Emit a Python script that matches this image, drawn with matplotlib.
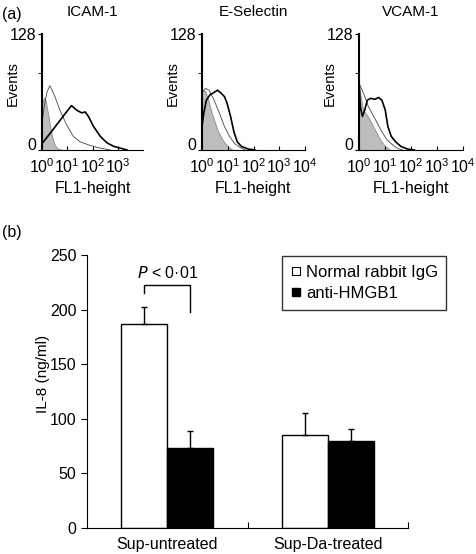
import matplotlib
matplotlib.use('Agg')
import numpy as np
import matplotlib.pyplot as plt
import matplotlib.transforms as mtransforms
from matplotlib.lines import Line2D

plt.rcParams['font.family'] = ['Liberation Sans', 'DejaVu Sans']
plt.rcParams['mathtext.default'] = 'regular'
plt.rcParams['font.size'] = 11.5

# ---- panel (a): flow cytometry histograms, x in decades (log10 of FL1-height) ----
icam_gray_x = [0, 0.05, 0.1, 0.15, 0.2, 0.25, 0.3, 0.35, 0.4, 0.45, 0.5, 0.55, 0.6, 0.7, 0.84]
icam_gray_y = [50, 56, 58, 54, 46, 38, 30, 22, 15, 10, 6, 4, 2, 1, 0]
icam_thin_x = [0, 0.1, 0.2, 0.31, 0.4, 0.51, 0.71, 0.97, 1.24, 1.51, 1.91, 2.31, 2.71]
icam_thin_y = [30, 50, 64, 71, 66, 59, 44, 28, 15, 9, 5, 2, 0]
icam_thick_x = [0, 0.31, 0.64, 0.97, 1.17, 1.37, 1.57, 1.71, 1.84, 2.04, 2.31, 2.57, 2.84, 3.11, 3.37]
icam_thick_y = [7, 18, 30, 42, 49, 44, 41, 42, 37, 26, 15, 8, 4, 2, 0]

esel_gray_x = [0, 0.13, 0.27, 0.4, 0.6, 0.8, 1.0, 1.2]
esel_gray_y = [66, 65, 52, 39, 22, 11, 4, 0]
esel_thin_x = [0, 0.13, 0.27, 0.47, 0.67, 0.87, 1.07, 1.27, 1.47, 1.67]
esel_thin_y = [63, 68, 66, 55, 41, 26, 15, 7, 3, 0]
esel_thick_x = [0, 0.07, 0.17, 0.31, 0.44, 0.6, 0.73, 0.87, 0.97, 1.11, 1.24, 1.37, 1.53, 1.8, 2.07]
esel_thick_y = [26, 41, 55, 61, 63, 66, 63, 59, 52, 37, 20, 9, 4, 1, 0]

vcam_gray_x = [0, 0.09, 0.16, 0.29, 0.42, 0.62, 0.82, 1.01, 1.21]
vcam_gray_y = [70, 55, 44, 39, 33, 22, 11, 4, 0]
vcam_thin_x = [0, 0.09, 0.22, 0.36, 0.49, 0.68, 0.88, 1.08, 1.28, 1.47, 1.67]
vcam_thin_y = [74, 68, 59, 48, 41, 31, 20, 11, 6, 2, 0]
vcam_thick_x = [0, 0.05, 0.13, 0.22, 0.32, 0.45, 0.62, 0.75, 0.88, 1.01, 1.11, 1.24, 1.41, 1.61, 1.87, 2.13]
vcam_thick_y = [77, 48, 37, 44, 55, 57, 56, 58, 55, 44, 26, 15, 9, 4, 1, 0]

titles = ['ICAM-1', 'E-Selectin', 'VCAM-1']
last_decade = [3, 4, 4]

# ---- panel (b): IL-8 bars ----
groups = ['Sup-untreated', 'Sup-Da-treated']
igg_mean = [187, 85]
igg_err = [15, 20]
hmgb1_mean = [73, 80]
hmgb1_err = [16, 11]

fig = plt.figure(figsize=(4.76, 5.54), dpi=100)
W, H = 476, 554

hist_sets = [
    (icam_gray_x, icam_gray_y, icam_thin_x, icam_thin_y, icam_thick_x, icam_thick_y),
    (esel_gray_x, esel_gray_y, esel_thin_x, esel_thin_y, esel_thick_x, esel_thick_y),
    (vcam_gray_x, vcam_gray_y, vcam_thin_x, vcam_thin_y, vcam_thick_x, vcam_thick_y),
]
lefts = [42, 202, 359]
widths = [101, 103, 104]
lift = mtransforms.ScaledTranslation(0, 4 / 72, fig.dpi_scale_trans)
for i, (gx, gy, tx, ty, kx, ky) in enumerate(hist_sets):
    ax = fig.add_axes([lefts[i] / W, 1 - 150 / H, widths[i] / W, 116 / H])
    gx = 10 ** np.array(gx)
    ax.fill_between(gx, gy, 0, color='#bdbdbd', edgecolor='#888888', linewidth=0.6)
    ax.plot(10 ** np.array(tx), ty, color='#444444', lw=0.6)
    ax.plot(10 ** np.array(kx), ky, color='black', lw=1.2)
    ax.set_xscale('log')
    ax.set_xlim(1, 1e4)
    ax.set_ylim(0, 128)
    ax.set_yticks([0, 128])
    ax.set_yticks([85], minor=True)
    ax.set_xticks([10 ** d for d in range(last_decade[i] + 1)])
    ax.spines['top'].set_visible(False)
    ax.spines['right'].set_visible(False)
    ax.spines['left'].set_linewidth(1.5)
    ax.spines['bottom'].set_linewidth(0.8)
    ax.tick_params(axis='x', which='major', direction='in', length=3, pad=5)
    ax.tick_params(axis='x', which='minor', direction='in', length=2)
    ax.tick_params(axis='y', which='both', direction='out', length=3, pad=1)
    zero_label = ax.get_yticklabels()[0]
    zero_label.set_transform(zero_label.get_transform() + lift)
    ax.set_title(titles[i], pad=13, fontsize=11)
    ax.set_ylabel('Events', fontsize=10.5)
    ax.yaxis.set_label_coords(-22 / widths[i], 0.57)
    ax.set_xlabel('FL1-height', labelpad=4)

fig.text(2 / W, 1 - 14 / H, '(a)', va='center')
fig.text(2 / W, 1 - 233 / H, '(b)', va='center')

# bar chart
ax = fig.add_axes([87 / W, 1 - 528 / H, 321 / W, 273 / H])
centers = np.arange(len(groups)) + 0.5
bw = 0.2875
ax.bar(centers - bw / 2, igg_mean, bw, color='white', edgecolor='black', linewidth=1)
ax.bar(centers + bw / 2, hmgb1_mean, bw, color='black', edgecolor='black', linewidth=1)
ax.errorbar(centers - bw / 2, igg_mean, yerr=[[0, 0], igg_err], fmt='none',
            ecolor='black', elinewidth=1, capsize=2.5)
ax.errorbar(centers + bw / 2, hmgb1_mean, yerr=[[0, 0], hmgb1_err], fmt='none',
            ecolor='black', elinewidth=1, capsize=2.5)

# significance bracket
x1, x2 = centers[0] - bw / 2, centers[0] + bw / 2
ax.plot([x1, x1, x2, x2], [215, 222.5, 222.5, 198], color='black', lw=1)
ax.text((x1 + x2) / 2, 226, r'$\it{P}$ < 0·01', ha='center', va='bottom')

ax.set_xlim(0, 2)
ax.set_ylim(0, 250)
ax.set_yticks(range(0, 251, 50))
ax.set_xticks([1, 2])
ax.set_xticklabels(['', ''])
ax.tick_params(axis='x', direction='in', length=4)
ax.tick_params(axis='y', direction='out', length=4)
for c, g in zip(centers, groups):
    ax.text(c, -8, g, ha='center', va='top')
ax.spines['top'].set_visible(False)
ax.spines['right'].set_visible(False)
ax.set_ylabel('IL-8 (ng/ml)', fontsize=11)
ax.yaxis.set_label_coords(-37 / 321, 0.564)

handles = [
    Line2D([], [], marker='s', ls='none', markersize=6, markerfacecolor='white',
           markeredgecolor='black', markeredgewidth=0.8),
    Line2D([], [], marker='s', ls='none', markersize=6, markerfacecolor='black',
           markeredgecolor='black'),
]
leg = ax.legend(handles, ['Normal rabbit IgG', 'anti-HMGB1'], loc='upper left',
                bbox_to_anchor=(0.583, 1.026), frameon=True, fancybox=False,
                handlelength=0.6, handletextpad=0.3, borderpad=0.5,
                labelspacing=0.4, fontsize=12)
leg.get_frame().set_edgecolor('black')
leg.get_frame().set_linewidth(1)

fig.savefig('out.png', dpi=100)
